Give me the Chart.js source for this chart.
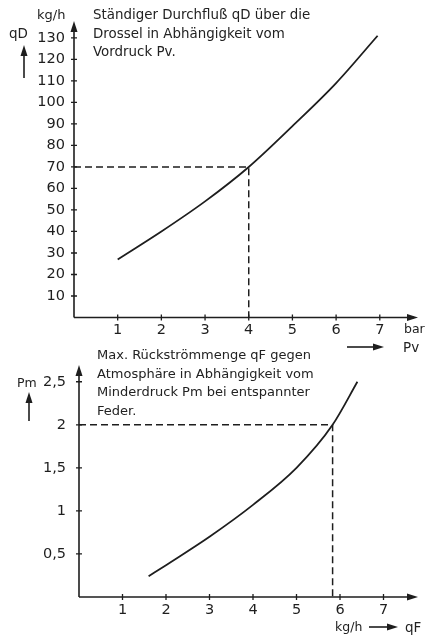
<!DOCTYPE html>
<html>
<head>
<meta charset="utf-8">
<script src="https://cdn.jsdelivr.net/npm/chart.js@4.4.1/dist/chart.umd.min.js"></script>
<style>
    body { margin: 0; background: #fff; }
    #wrap { position: relative; width: 425px; height: 640px; overflow: hidden; font-family: "DejaVu Sans", sans-serif; color: #222; }
    canvas { position: absolute; left: 0; }
    .t { position: absolute; font-size: 13.4px; line-height: 18.5px; white-space: nowrap; }
</style>
</head>
<body>
<div id="wrap">
    <canvas id="chart1" width="425" height="345" style="top:0"></canvas>
    <canvas id="chart2" width="425" height="305" style="top:335px"></canvas>

    <div class="t" style="left:93px;top:6px">Ständiger Durchfluß qD über die<br>Drossel in Abhängigkeit vom<br>Vordruck Pv.</div>
    <div class="t" style="left:37px;top:6px;font-size:13px">kg/h</div>
    <div class="t" style="left:9px;top:24px;font-size:13.5px">qD</div>
    <div class="t" style="left:404px;top:320px;font-size:12.5px">bar</div>
    <div class="t" style="left:403px;top:338px;font-size:13.5px">Pv</div>

    <div class="t" style="left:97px;top:346px;font-size:13px">Max. Rückströmmenge qF gegen<br>Atmosphäre in Abhängigkeit vom<br>Minderdruck Pm bei entspannter<br>Feder.</div>
    <div class="t" style="left:17px;top:374px;font-size:12.5px">Pm</div>
    <div class="t" style="left:335px;top:618px;font-size:12.5px">kg/h</div>
    <div class="t" style="left:405px;top:618px;font-size:13.5px">qF</div>
</div>
<script>
    // Oben: Durchfluss qD ueber Vordruck Pv
    var pvValues = [1, 2, 3, 4, 5, 6, 6.95];
    var qDValues = [27, 40, 54, 70, 89, 109, 131];
    var pvTicks = [1, 2, 3, 4, 5, 6, 7];
    var qDTicks = [10, 20, 30, 40, 50, 60, 70, 80, 90, 100, 110, 120, 130];
    var readPv = 4, readqD = 70;

    // Unten: Rueckstroemmenge qF ueber Minderdruck Pm
    var qFValues = [1.6, 2, 3, 4, 5, 5.83, 6.4];
    var pmValues = [0.24, 0.37, 0.7, 1.07, 1.5, 2.0, 2.5];
    var qFTicks = [1, 2, 3, 4, 5, 6, 7];
    var pmTicks = [0.5, 1, 1.5, 2, 2.5];
    var readqF = 5.83, readPm = 2;

    var ink = '#1e1e1e';
    var tickFont = {family: 'DejaVu Sans', size: 14.5};

    var arrowHead = function (ctx, x, y, dir) {
        ctx.beginPath();
        if (dir === 'right') {
            ctx.moveTo(x, y); ctx.lineTo(x - 11, y - 3.5); ctx.lineTo(x - 11, y + 3.5);
        } else {
            ctx.moveTo(x, y); ctx.lineTo(x - 3.5, y + 11); ctx.lineTo(x + 3.5, y + 11);
        }
        ctx.closePath();
        ctx.fill();
    };

    // Achsen mit Pfeilen und Teilstrichen
    var axesPlugin = {
        id: 'axesArrows',
        afterDraw: function (chart, args, opts) {
            var ctx = chart.ctx;
            var xs = chart.scales.x, ys = chart.scales.y;
            var x0 = xs.getPixelForValue(0), y0 = ys.getPixelForValue(0);
            ctx.save();
            ctx.strokeStyle = ink;
            ctx.fillStyle = ink;
            ctx.lineWidth = 1.6;
            ctx.beginPath();
            ctx.moveTo(x0, y0); ctx.lineTo(opts.xEnd - 4, y0);
            ctx.moveTo(x0, y0); ctx.lineTo(x0, opts.yEnd + 4);
            ctx.stroke();
            arrowHead(ctx, opts.xEnd, y0, 'right');
            arrowHead(ctx, x0, opts.yEnd, 'up');
            ctx.lineWidth = 1.3;
            ctx.beginPath();
            xs.ticks.forEach(function (t) {
                var p = xs.getPixelForValue(t.value);
                ctx.moveTo(p, y0 - 3); ctx.lineTo(p, y0 + 3);
            });
            ys.ticks.forEach(function (t) {
                var p = ys.getPixelForValue(t.value);
                ctx.moveTo(x0 - 3, p); ctx.lineTo(x0 + 3, p);
            });
            ctx.stroke();
            // freie Pfeile an den Beschriftungen
            ctx.lineWidth = 1.6;
            (opts.extra || []).forEach(function (e) {
                ctx.beginPath();
                ctx.moveTo(e[0], e[1]);
                if (e[4] === 'right') { ctx.lineTo(e[2] - 6, e[3]); } else { ctx.lineTo(e[2], e[3] + 6); }
                ctx.stroke();
                arrowHead(ctx, e[2], e[3], e[4]);
            });
            ctx.restore();
        }
    };

    var makeScales = function (xMax, yMax, xTicks, yTicks, yWidth, xHeight, yPad, xPad, fmt) {
        return {
            x: {
                type: 'linear', min: 0, max: xMax,
                afterBuildTicks: function (s) { s.ticks = xTicks.map(function (v) { return {value: v}; }); },
                afterFit: function (s) { s.height = xHeight; },
                grid: {display: false, drawTicks: false}, border: {display: false},
                ticks: {padding: xPad, autoSkip: false, maxRotation: 0, color: ink, font: tickFont}
            },
            y: {
                type: 'linear', min: 0, max: yMax,
                afterBuildTicks: function (s) { s.ticks = yTicks.map(function (v) { return {value: v}; }); },
                afterFit: function (s) { s.width = yWidth; },
                grid: {display: false, drawTicks: false}, border: {display: false},
                ticks: {padding: yPad, color: ink, font: tickFont, callback: fmt}
            }
        };
    };

    var curve = function (xv, yv) {
        return {
            data: xv.map(function (x, i) { return {x: x, y: yv[i]}; }),
            borderColor: ink, borderWidth: 1.8, pointRadius: 0,
            cubicInterpolationMode: 'monotone', fill: false
        };
    };
    var dashed = function (rx, ry) {
        return {
            data: [{x: 0, y: ry}, {x: rx, y: ry}, {x: rx, y: 0}],
            borderColor: ink, borderWidth: 1.5, borderDash: [7, 4], pointRadius: 0, tension: 0, fill: false
        };
    };

    var ctx1 = document.getElementById('chart1').getContext('2d');
    new Chart(ctx1, {
        type: 'line',
        data: {datasets: [curve(pvValues, qDValues), dashed(readPv, readqD)]},
        options: {
            responsive: false, animation: false,
            layout: {padding: {top: 25, right: 19, left: 0, bottom: 0}},
            plugins: {
                legend: {display: false}, tooltip: {enabled: false},
                axesArrows: {xEnd: 418, yEnd: 21, extra: [[24, 78, 24, 45, 'up']]}
            },
            scales: makeScales(7.6, 136, pvTicks, qDTicks, 74, 27.5, 9, 4)
        },
        plugins: [axesPlugin]
    });

    var ctx2 = document.getElementById('chart2').getContext('2d');
    new Chart(ctx2, {
        type: 'line',
        data: {datasets: [curve(qFValues, pmValues), dashed(readqF, readPm)]},
        options: {
            responsive: false, animation: false,
            layout: {padding: {top: 33, right: 15.4, left: 0, bottom: 0}},
            plugins: {
                legend: {display: false}, tooltip: {enabled: false},
                axesArrows: {
                    xEnd: 418, yEnd: 30,
                    extra: [[347, 12, 384, 12, 'right'], [29, 86, 29, 57, 'up'], [369, 292, 398, 292, 'right']]
                }
            },
            scales: makeScales(7.6, 2.66, qFTicks, pmTicks, 79, 43, 13, 5,
                function (v) { return String(v).replace('.', ','); })
        },
        plugins: [axesPlugin]
    });
</script>
</body>
</html>
